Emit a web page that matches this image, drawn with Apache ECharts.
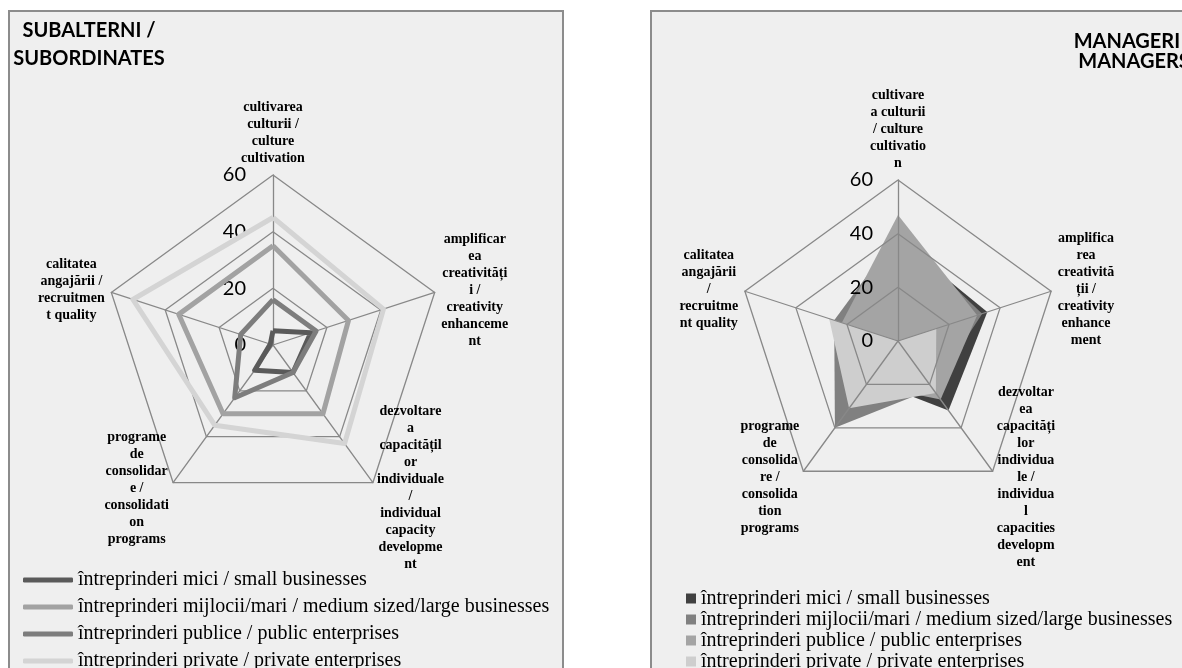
<!DOCTYPE html>
<html>
<head>
<meta charset="utf-8">
<script src="https://cdn.jsdelivr.net/npm/echarts@6/dist/echarts.min.js"></script>
<style>
    html, body { margin: 0; padding: 0; background: #fff; width: 1182px; height: 668px; overflow: hidden; }
    .panel { position: absolute; background: #efefef; border: 2px solid #8c8c8c; }
    .chart { position: absolute; left: 0; top: 0; width: 100%; height: 100%; }
</style>
</head>
<body>
<div class="panel" style="left:8px;top:10px;width:552px;height:700px;"><div id="sub-chart" class="chart"></div></div>
<div class="panel" style="left:650px;top:10px;width:600px;height:700px;"><div id="man-chart" class="chart"></div></div>
<script>
// legend / series names
var seriesNames = [
    'întreprinderi mici / small businesses',
    'întreprinderi mijlocii/mari / medium sized/large businesses',
    'întreprinderi publice / public enterprises',
    'întreprinderi private / private enterprises'
];

// axis names, clockwise from the top (as in the picture)
var subAxes = [
    'cultivarea\nculturii /\nculture\ncultivation',
    'amplificar\nea\ncreativități\ni /\ncreativity\nenhanceme\nnt',
    'dezvoltare\na\ncapacitățil\nor\nindividuale\n/\nindividual\ncapacity\ndevelopme\nnt',
    'programe\nde\nconsolidar\ne /\nconsolidati\non\nprograms',
    'calitatea\nangajării /\nrecruitmen\nt quality'
];
var manAxes = [
    'cultivare\na culturii\n/ culture\ncultivatio\nn',
    'amplifica\nrea\ncreativită\nții /\ncreativity\nenhance\nment',
    'dezvoltar\nea\ncapacități\nlor\nindividua\nle /\nindividua\nl\ncapacities\ndevelopm\nent',
    'programe\nde\nconsolida\nre /\nconsolida\ntion\nprograms',
    'calitatea\nangajării\n/\nrecruitme\nnt quality'
];

var ticks = [0, 20, 40, 60];

// subordinates (lines), values clockwise from the top
var subMici     = [5, 14, 12, 11, 1];
var subMijlocii = [35, 28, 30, 30, 35];
var subPublice  = [16, 16, 12, 23, 12];
var subPrivate  = [45, 41, 43, 35, 52];

// managers (areas)
var manMici     = [38, 35, 32, 18, 20];
var manMijlocii = [40, 33, 22, 40, 25];
var manPublice  = [47, 31, 27, 20, 22];
var manPrivate  = [0, 15, 24, 31, 27];

var lineColors = ['#5a5a5a', '#a2a2a2', '#7d7d7d', '#d4d4d4'];
var areaColors = ['#404040', '#808080', '#a4a4a4', '#cecece'];

// echarts radar runs counter-clockwise, the picture clockwise
function ccw(arr) {
    return [arr[0], arr[4], arr[3], arr[2], arr[1]];
}

function centerLines(name) {
    return name.split('\n').map(function (l) { return '{c|' + l + '}'; }).join('\n');
}

function radarCfg(axes, center, radius, z, labelGap) {
    return {
        z: z,
        center: center,
        radius: radius,
        startAngle: 90,
        shape: 'polygon',
        splitNumber: ticks.length - 1,
        nameGap: 7,
        indicator: ccw(axes).map(function (n, i) {
            var ind = { name: n, min: ticks[0], max: ticks[ticks.length - 1] };
            if (i === 0) ind.axisLabel = { show: true };
            return ind;
        }),
        axisName: {
            formatter: centerLines,
            rich: {
                c: {
                    align: 'center',
                    fontFamily: 'Liberation Serif',
                    fontWeight: 'bold',
                    fontSize: 14,
                    lineHeight: 17,
                    color: '#000'
                }
            }
        },
        axisLine: { lineStyle: { color: '#888', width: 1.3 } },
        splitLine: { lineStyle: { color: '#888', width: 1.3 } },
        splitArea: { show: false },
        axisTick: { show: false },
        axisLabel: {
            show: false,
            fontFamily: 'Lato',
            fontSize: 20,
            color: '#000',
            margin: labelGap
        }
    };
}

var subChart = echarts.init(document.getElementById('sub-chart'));
var subValues = [subMici, subMijlocii, subPublice, subPrivate];
subChart.setOption({
    animation: false,
    color: lineColors,
    title: {
        text: 'SUBALTERNI /\nSUBORDINATES',
        left: 79,
        top: 5,
        padding: 0,
        textAlign: 'center',
        textStyle: { fontFamily: 'Lato', fontWeight: 'bold', fontSize: 20, lineHeight: 28, color: '#000' }
    },
    legend: {
        orient: 'vertical',
        left: 13,
        top: 557,
        padding: 0,
        icon: 'roundRect',
        itemWidth: 50,
        itemHeight: 5,
        itemGap: 5,
        textStyle: { fontFamily: 'Liberation Serif', fontSize: 20, lineHeight: 22, color: '#000' },
        data: seriesNames
    },
    radar: radarCfg(subAxes, [263, 333], 170, 0, 27),
    series: [{
        type: 'radar',
        symbol: 'none',
        data: subValues.map(function (v, i) {
            return {
                name: seriesNames[i],
                value: ccw(v),
                lineStyle: { width: 5, color: lineColors[i] },
                itemStyle: { color: lineColors[i] }
            };
        })
    }]
});

var manChart = echarts.init(document.getElementById('man-chart'));
var manValues = [manMici, manMijlocii, manPublice, manPrivate];
manChart.setOption({
    animation: false,
    color: areaColors,
    title: {
        text: 'MANAGERI /\nMANAGERS',
        left: 482,
        top: 20,
        padding: 0,
        textAlign: 'center',
        textStyle: { fontFamily: 'Lato', fontWeight: 'bold', fontSize: 20, lineHeight: 20, color: '#000' }
    },
    legend: {
        orient: 'vertical',
        left: 34,
        top: 576,
        padding: 0,
        icon: 'rect',
        itemWidth: 10,
        itemHeight: 10,
        itemGap: 0,
        textStyle: { fontFamily: 'Liberation Serif', fontSize: 20, lineHeight: 21, color: '#000' },
        data: seriesNames
    },
    radar: radarCfg(manAxes, [246, 329], 161, 3, 25),
    series: [{
        type: 'radar',
        symbol: 'none',
        data: manValues.map(function (v, i) {
            return {
                name: seriesNames[i],
                value: ccw(v),
                lineStyle: { width: 0, color: areaColors[i] },
                areaStyle: { color: areaColors[i], opacity: 1 },
                itemStyle: { color: areaColors[i] }
            };
        })
    }]
});

window.addEventListener('resize', function () {
    subChart.resize();
    manChart.resize();
});
</script>
</body>
</html>
